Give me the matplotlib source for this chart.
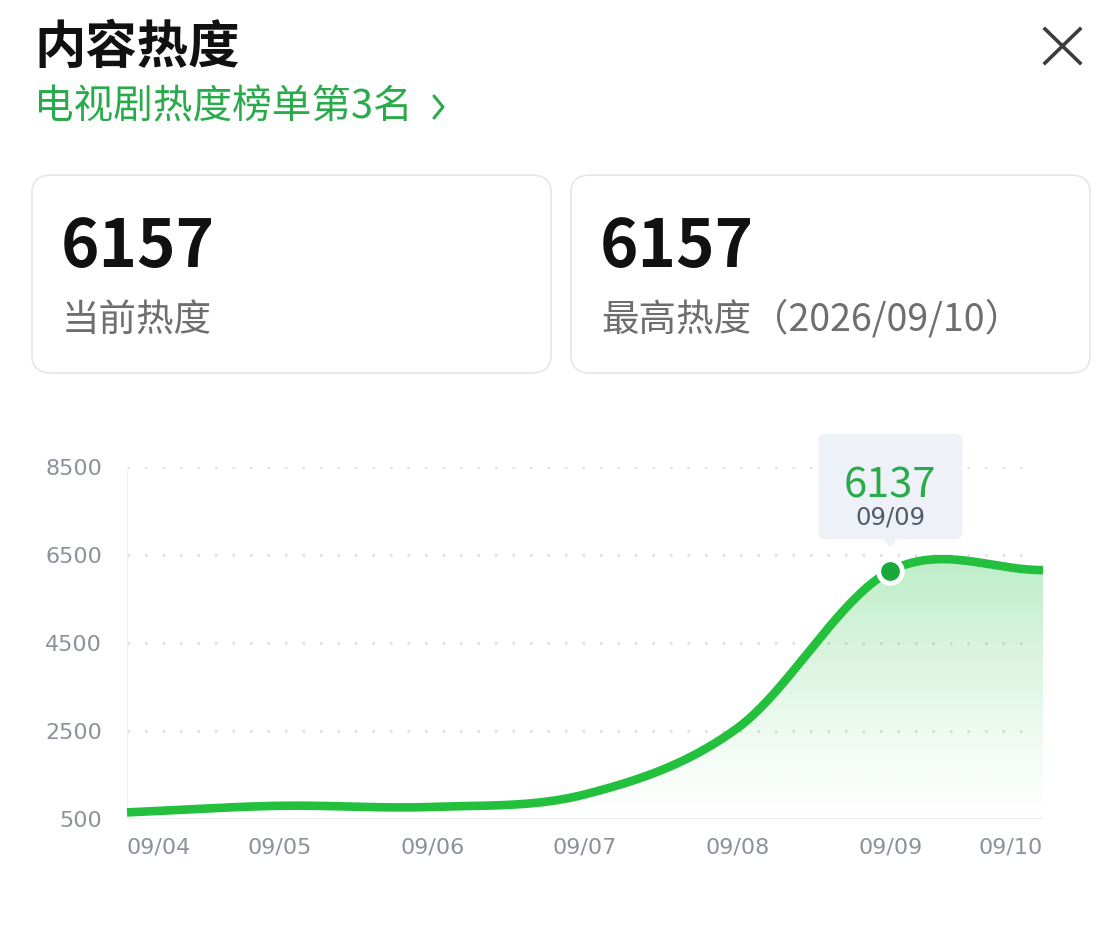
import numpy as np
import matplotlib
matplotlib.use("Agg")
import matplotlib.pyplot as plt
from matplotlib.patches import FancyBboxPatch, Polygon
from matplotlib.lines import Line2D

plt.rcParams['font.family'] = ['Noto Sans CJK SC', 'DejaVu Sans']

# ---- data ----
dates = ["09/04", "09/05", "09/06", "09/07", "09/08", "09/09", "09/10"]
heat = [650, 800, 775, 1060, 2570, 6137, 6157]
y_ticks = [500, 2500, 4500, 6500, 8500]
title = "内容热度"
subtitle = "电视剧热度榜单第3名"
current_heat = "6157"
current_label = "当前热度"
max_heat = "6157"
max_label = "最高热度（2026/09/10）"
hover_idx = 5

W, H = 1120, 950
fig = plt.figure(figsize=(W / 100, H / 100), dpi=100)
fig.patch.set_facecolor("white")


def fx(x):
    return x / W


def fy(y):
    return 1 - y / H


GREEN = "#22c03c"
GREEN_TXT = "#2aab4b"
GRAY = "#8d9199"

# ---- header ----
fig.text(fx(34), fy(47), title, fontsize=37, fontweight="bold", color="#111111",
         ha="left", va="center")
fig.text(fx(34), fy(107), subtitle, fontsize=28.5, color=GREEN_TXT, ha="left", va="center")
# chevron
fig.add_artist(Line2D([fx(434), fx(443), fx(434)], [fy(96), fy(107), fy(118)],
                      color=GREEN_TXT, lw=2.2, solid_capstyle="round",
                      solid_joinstyle="round"))
# close X
for (x0, y0, x1, y1) in [(1045, 29, 1080, 63), (1080, 29, 1045, 63)]:
    fig.add_artist(Line2D([fx(x0), fx(x1)], [fy(y0), fy(y1)], color="#3c3c3c", lw=2.6))

# ---- cards ----
for (x0, x1, big, lab) in [(32, 551, current_heat, current_label),
                            (571, 1090, max_heat, max_label)]:
    card = FancyBboxPatch((fx(x0), fy(373)), fx(x1 - x0), (373 - 175) / H,
                          boxstyle="round,pad=0,rounding_size=0.018",
                          transform=fig.transFigure, facecolor="white",
                          edgecolor="#e6e6e6", lw=1.2)
    fig.add_artist(card)
    fig.text(fx(x0 + 29), fy(248), big, fontsize=47, fontweight="bold",
             color="#111111", ha="left", va="center")
    fig.text(fx(x0 + 30), fy(320), lab, fontsize=27, color="#6e6e6e",
             ha="left", va="center")

# ---- chart ----
ax_left, ax_right, ax_top, ax_bot = 127, 1043, 467, 819
ax = fig.add_axes([fx(ax_left), fy(ax_bot), (ax_right - ax_left) / W,
                   (ax_bot - ax_top) / H])
ax.set_facecolor("none")
x = np.arange(len(heat))
y = np.array(heat, dtype=float)
ax.set_xlim(0, len(heat) - 1)
ax.set_ylim(y_ticks[0], y_ticks[-1])

# smooth (cardinal / Catmull-Rom) curve through the data points
m = np.zeros_like(y)
m[1:-1] = (y[2:] - y[:-2]) / 2
m[0] = y[1] - y[0]
m[-1] = y[-1] - y[-2]
xs, ys = [], []
for i in range(len(y) - 1):
    t = np.linspace(0, 1, 40, endpoint=(i == len(y) - 2))
    h00 = 2 * t**3 - 3 * t**2 + 1
    h10 = t**3 - 2 * t**2 + t
    h01 = -2 * t**3 + 3 * t**2
    h11 = t**3 - t**2
    xs.append(x[i] + t)
    ys.append(h00 * y[i] + h10 * m[i] + h01 * y[i + 1] + h11 * m[i + 1])
xs = np.concatenate(xs)
ys = np.concatenate(ys)

# gradient fill under the curve
ytop = ys.max()
grad = np.linspace(0, 1, 256).reshape(-1, 1)
rgba = np.zeros((256, 1, 4))
rgba[..., 0] = 0.20
rgba[..., 1] = 0.78
rgba[..., 2] = 0.32
rgba[..., 3] = 0.32 * grad[::-1] ** 1.2
rgba = rgba[::-1]
img = ax.imshow(rgba, extent=[0, len(heat) - 1, y_ticks[0], ytop], aspect="auto",
                origin="lower", zorder=1)
poly = Polygon(np.column_stack([np.r_[xs, xs[-1], xs[0]],
                                np.r_[ys, y_ticks[0], y_ticks[0]]]),
               closed=True, facecolor="none", edgecolor="none",
               transform=ax.transData)
ax.add_patch(poly)
img.set_clip_path(poly)
ax.set_xlim(0, len(heat) - 1)
ax.set_ylim(y_ticks[0], y_ticks[-1])

# grid lines
for yt in y_ticks[1:]:
    ax.axhline(yt, color="#dcdcdc", lw=1.8, ls=(0, (1, 6)), zorder=0,
               xmax=0.99)
ax.axhline(y_ticks[0], color="#eeeeee", lw=1.5, zorder=0)
ax.axvline(0, color="#f2f2f2", lw=1.5, zorder=0)

ax.plot(xs, ys, color=GREEN, lw=6.2, solid_capstyle="butt", zorder=3, clip_on=False)

# hovered point
ax.plot([x[hover_idx]], [y[hover_idx]], "o", ms=17, color="#1aa83a",
        mec="white", mew=3.5, zorder=5, clip_on=False)

for s in ax.spines.values():
    s.set_visible(False)
ax.set_yticks(y_ticks)
ax.set_yticklabels([str(v) for v in y_ticks], fontsize=16, color=GRAY)
ax.set_xticks(x)
ax.set_xticklabels(dates, fontsize=16, color=GRAY)
ax.tick_params(length=0, pad=18, axis="y")
ax.tick_params(length=0, pad=13, axis="x")
labs = ax.get_xticklabels()
labs[0].set_ha("left")
labs[-1].set_ha("right")
for lab in ax.get_yticklabels():
    lab.set_family(['DejaVu Sans'])
for lab in labs:
    lab.set_family(['DejaVu Sans'])

# tooltip
fig.canvas.draw()
px, py = ax.transData.transform((x[hover_idx], y[hover_idx]))
py_img = H - py
bw, bh = 144, 105
bx0 = px - bw / 2
by_bot = py_img - 32
tip = FancyBboxPatch((fx(bx0), fy(by_bot)), bw / W, bh / H,
                     boxstyle="round,pad=0,rounding_size=0.006",
                     transform=fig.transFigure, facecolor="#eef1f8",
                     edgecolor="none", zorder=10)
fig.add_artist(tip)
tri = Polygon([[fx(px - 8), fy(by_bot - 0.5)], [fx(px + 8), fy(by_bot - 0.5)],
               [fx(px), fy(by_bot + 8)]], closed=True, transform=fig.transFigure,
              facecolor="#eef1f8", edgecolor="none", zorder=10)
fig.add_artist(tri)
fig.text(fx(px), fy(by_bot - 53), str(heat[hover_idx]), fontsize=30,
         fontweight="medium", color=GREEN_TXT, ha="center", va="center", zorder=11)
fig.text(fx(px), fy(by_bot - 21), dates[hover_idx], fontsize=17.5,
         color="#555b66", ha="center", va="center", zorder=11,
         family=['DejaVu Sans'])

fig.savefig("out.png", dpi=100, facecolor="white")
